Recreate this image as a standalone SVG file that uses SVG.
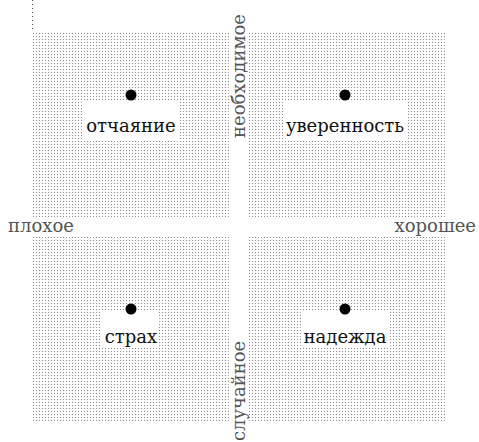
<svg xmlns="http://www.w3.org/2000/svg" width="479" height="442" viewBox="0 0 479 442">
<defs>
<pattern id="dots" x="0" y="0" width="3" height="3" patternUnits="userSpaceOnUse">
<rect x="0" y="0" width="1" height="1" fill="#8a8a8a"/>
</pattern>
<style>
.q{fill:url(#dots)}
.box{fill:#fff}
.dot{fill:#000}
.lbl{font-family:"DejaVu Serif","Liberation Serif",serif;font-size:18px;fill:#111;text-anchor:middle}
.ax{font-family:"DejaVu Serif","Liberation Serif",serif;font-size:18px;fill:#555}
</style>
</defs>
<rect width="479" height="442" fill="#fff"/>
<g id="quadrants">
<rect class="q" x="33" y="31" width="196" height="186"/>
<rect class="q" x="249" y="31" width="196" height="186"/>
<rect class="q" x="33" y="237" width="196" height="186"/>
<rect class="q" x="249" y="237" width="196" height="186"/>
</g>
<g id="connectors">
<line x1="32.5" y1="0" x2="32.5" y2="30" stroke="#555" stroke-width="1" stroke-dasharray="1 3"/>
</g>
<g id="axes">
<text class="ax" x="8" y="232">плохое</text>
<text class="ax" x="476" y="232" text-anchor="end">хорошее</text>
<text class="ax" transform="translate(245 138) rotate(-90)">необходимое</text>
<text class="ax" transform="translate(245 441) rotate(-90)">случайное</text>
</g>
<g id="node-despair">
<rect class="box" x="83" y="102" width="95" height="37"/>
<circle class="dot" cx="131" cy="95" r="5.5"/>
<text class="lbl" x="131" y="132">отчаяние</text>
</g>
<g id="node-confidence">
<rect class="box" x="284" y="102" width="122" height="37"/>
<circle class="dot" cx="345" cy="95" r="5.5"/>
<text class="lbl" x="345" y="132">уверенность</text>
</g>
<g id="node-fear">
<rect class="box" x="102" y="311" width="57" height="37"/>
<circle class="dot" cx="131" cy="309" r="5.5"/>
<text class="lbl" x="131" y="343">страх</text>
</g>
<g id="node-hope">
<rect class="box" x="302" y="311" width="88" height="37"/>
<circle class="dot" cx="345" cy="309" r="5.5"/>
<text class="lbl" x="345" y="343">надежда</text>
</g>
</svg>
